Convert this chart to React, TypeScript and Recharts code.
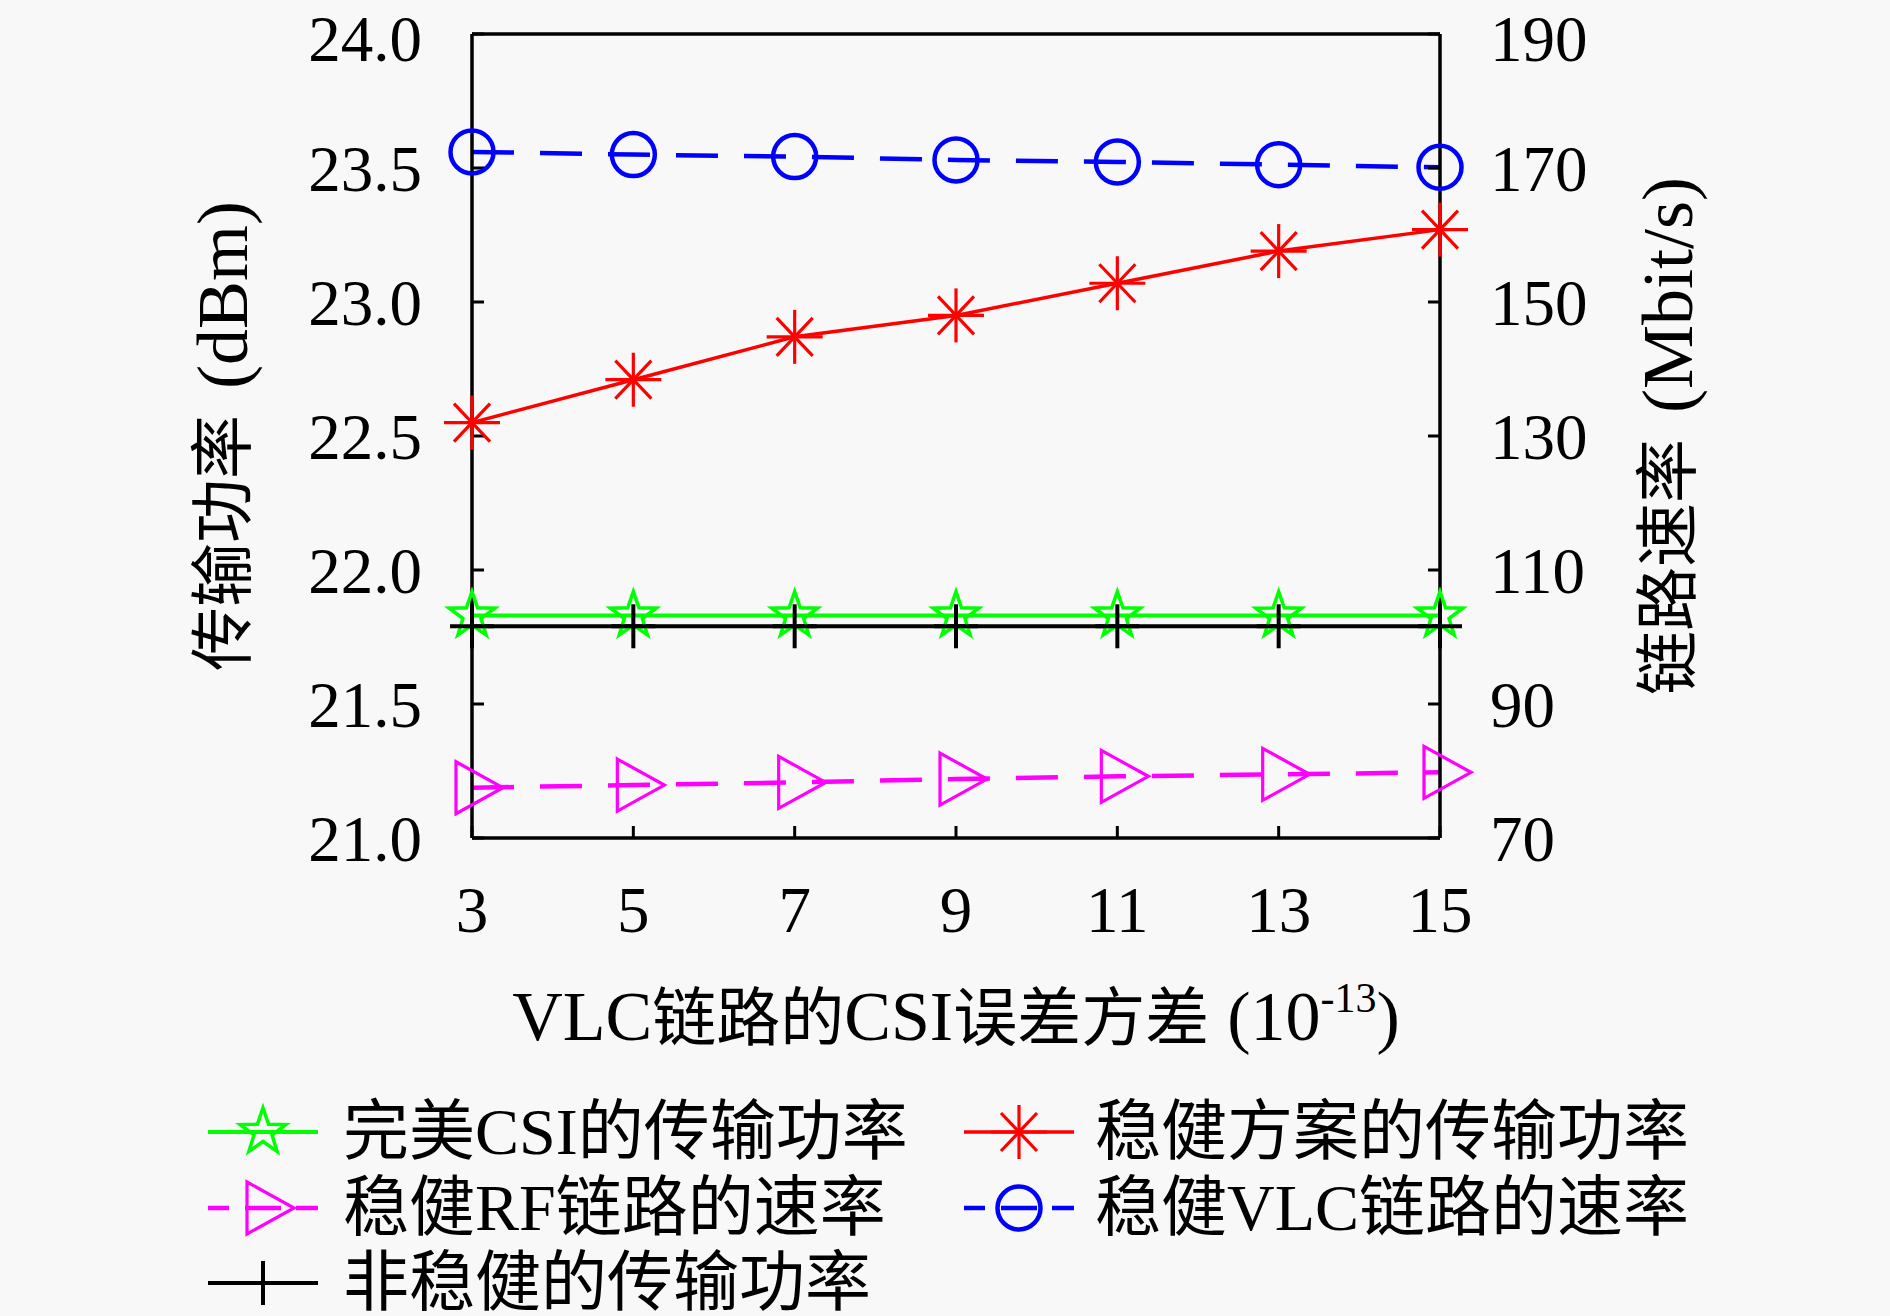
import React from 'react';
import { LineChart, Line, XAxis, YAxis, Label } from 'recharts';

const FONT = '"Liberation Serif", "Noto Sans CJK SC", serif';

// VLC CSI error variance (10^-13)
const X_VALUES = [3, 5, 7, 9, 11, 13, 15];
// transmit power, dBm (left axis)
const PERFECT_CSI_POWER = [21.83, 21.83, 21.83, 21.83, 21.83, 21.83, 21.83];
const ROBUST_POWER = [22.55, 22.71, 22.87, 22.95, 23.07, 23.19, 23.27];
const NON_ROBUST_POWER = [21.79, 21.79, 21.79, 21.79, 21.79, 21.79, 21.79];
// link rate, Mbit/s (right axis)
const ROBUST_RF_RATE = [77.5, 77.9, 78.3, 78.8, 79.2, 79.5, 79.8];
const ROBUST_VLC_RATE = [172.4, 172.0, 171.7, 171.2, 170.9, 170.5, 170.1];

const X_TICKS = [3, 5, 7, 9, 11, 13, 15];
const LEFT_TICKS = [21, 21.5, 22, 22.5, 23, 23.5, 24];
const RIGHT_TICKS = [70, 90, 110, 130, 150, 170, 190];

const SERIES = [
  { key: 'perfect', name: '完美CSI的传输功率', color: '#00ff00', axis: 'left', marker: 'star', width: 4 },
  { key: 'robust', name: '稳健方案的传输功率', color: '#ff0000', axis: 'left', marker: 'asterisk', width: 3.5 },
  { key: 'rf', name: '稳健RF链路的速率', color: '#ff00ff', axis: 'right', marker: 'triangle', width: 4.5, dash: '42 26' },
  { key: 'vlc', name: '稳健VLC链路的速率', color: '#0000ff', axis: 'right', marker: 'circle', width: 4.5, dash: '42 26' },
  { key: 'nonRobust', name: '非稳健的传输功率', color: '#000000', axis: 'left', marker: 'plus', width: 4 },
];

const rows = X_VALUES.map((x, i) => ({
  x,
  perfect: PERFECT_CSI_POWER[i],
  robust: ROBUST_POWER[i],
  rf: ROBUST_RF_RATE[i],
  vlc: ROBUST_VLC_RATE[i],
  nonRobust: NON_ROBUST_POWER[i],
}));

function Marker({ kind, cx, cy, color }: { kind: string; cx: number; cy: number; color: string }) {
  if (kind === 'star') {
    const pts: string[] = [];
    for (let i = 0; i < 10; i++) {
      const r = i % 2 === 0 ? 24 : 9.5;
      const a = -Math.PI / 2 + (i * Math.PI) / 5;
      pts.push(`${cx + r * Math.cos(a)},${cy + r * Math.sin(a)}`);
    }
    return <polygon points={pts.join(' ')} fill="none" stroke={color} strokeWidth={3.5} strokeLinejoin="miter" />;
  }
  if (kind === 'asterisk') {
    return (
      <g stroke={color} strokeWidth={3.2}>
        <line x1={cx} y1={cy - 27} x2={cx} y2={cy + 27} />
        <line x1={cx - 28} y1={cy} x2={cx + 28} y2={cy} />
        <line x1={cx - 18} y1={cy - 19} x2={cx + 18} y2={cy + 19} />
        <line x1={cx - 18} y1={cy + 19} x2={cx + 18} y2={cy - 19} />
      </g>
    );
  }
  if (kind === 'triangle') {
    return (
      <polygon
        points={`${cx - 16},${cy - 26} ${cx + 31},${cy} ${cx - 16},${cy + 26}`}
        fill="none"
        stroke={color}
        strokeWidth={3.2}
      />
    );
  }
  if (kind === 'circle') {
    return <circle cx={cx} cy={cy} r={21.5} fill="none" stroke={color} strokeWidth={4.5} />;
  }
  return (
    <g stroke={color} strokeWidth={4}>
      <line x1={cx} y1={cy - 22} x2={cx} y2={cy + 22} />
      <line x1={cx - 22} y1={cy} x2={cx + 22} y2={cy} />
    </g>
  );
}

const makeDot = (kind: string, color: string) => (props: any) => {
  const { cx, cy, index } = props;
  if (cx == null || cy == null) return <g key={`d-${index}`} />;
  return (
    <g key={`d-${index}`}>
      <Marker kind={kind} cx={cx} cy={cy} color={color} />
    </g>
  );
};

const XTitle = (props: any) => {
  const vb = props.viewBox || { x: 472, y: 838, width: 968, height: 478 };
  return (
    <text x={vb.x + vb.width / 2} y={vb.y + 202} textAnchor="middle" fontSize={64} fontFamily={FONT} fill="#000">
      <tspan fontSize={70}>VLC</tspan>
      <tspan>链路的</tspan>
      <tspan fontSize={70}>CSI</tspan>
      <tspan>误差方差</tspan>
      <tspan fontSize={70} dx={18}>(10</tspan>
      <tspan fontSize={42} dy={-28}>-13</tspan>
      <tspan fontSize={70} dy={28}>)</tspan>
    </text>
  );
};

const LeftTitle = (props: any) => {
  const vb = props.viewBox || { x: 0, y: 34, width: 472, height: 804 };
  const cx = vb.x + 223;
  const cy = vb.y + vb.height / 2;
  return (
    <text x={cx} y={cy} transform={`rotate(-90, ${cx}, ${cy})`} textAnchor="middle" dominantBaseline="central"
      fontSize={64} fontFamily={FONT} fill="#000">
      <tspan>传输功率</tspan>
      <tspan fontSize={72} dx={26}>(dBm)</tspan>
    </text>
  );
};

const RightTitle = (props: any) => {
  const vb = props.viewBox || { x: 1440, y: 34, width: 450, height: 804 };
  const cx = vb.x + 228;
  const cy = vb.y + vb.height / 2;
  return (
    <text x={cx} y={cy} transform={`rotate(-90, ${cx}, ${cy})`} textAnchor="middle" dominantBaseline="central"
      fontSize={64} fontFamily={FONT} fill="#000">
      <tspan>链路速率</tspan>
      <tspan fontSize={72} dx={26}>(Mbit/s)</tspan>
    </text>
  );
};

// legend grid: 2 columns, row-major like the MATLAB legend
const LEGEND_ROWS = [1132, 1208, 1283];
const LEGEND_COLS = [{ line: 208, text: 343 }, { line: 964, text: 1095 }];

function LegendSwatch({ s }: { s: (typeof SERIES)[number] }) {
  return (
    <svg width={110} height={80} style={{ position: 'absolute', left: 0, top: 0, overflow: 'visible' }}>
      <line x1={0} y1={40} x2={110} y2={40} stroke={s.color} strokeWidth={s.width}
        strokeDasharray={s.dash ? '21 16 36 15 22' : undefined} />
      <Marker kind={s.marker} cx={55} cy={40} color={s.color} />
    </svg>
  );
}

export default function App() {
  const axisLine = { stroke: '#000', strokeWidth: 3.5 };
  const tickLine = { stroke: '#000', strokeWidth: 3 };
  const tickText = { fill: '#000', fontSize: 65, fontFamily: FONT };
  return (
    <div style={{ position: 'absolute', left: 0, top: 0, width: 1890, height: 1316, background: '#f8f8f8', fontFamily: FONT }}>
      <LineChart width={1890} height={1316} data={rows} margin={{ top: 0, right: 0, bottom: 0, left: 0 }}>
        <XAxis xAxisId="top" orientation="top" type="number" dataKey="x" domain={[3, 15]} ticks={X_TICKS}
          height={34} tick={false} tickSize={-12} axisLine={axisLine} tickLine={tickLine} allowDataOverflow />
        <XAxis xAxisId="bottom" orientation="bottom" type="number" dataKey="x" domain={[3, 15]} ticks={X_TICKS}
          height={478} tickSize={-12} tickMargin={60} tick={tickText} axisLine={axisLine} tickLine={tickLine}>
          <Label content={XTitle} />
        </XAxis>
        <YAxis yAxisId="left" orientation="left" type="number" domain={[21, 24]} ticks={LEFT_TICKS} width={472}
          tickSize={-12} tickMargin={62} tick={tickText} tickFormatter={(v: number) => v.toFixed(1)}
          axisLine={axisLine} tickLine={tickLine}>
          <Label content={LeftTitle} />
        </YAxis>
        <YAxis yAxisId="right" orientation="right" type="number" domain={[70, 190]} ticks={RIGHT_TICKS} width={450}
          tickSize={-12} tickMargin={62} tick={tickText} axisLine={axisLine} tickLine={tickLine}>
          <Label content={RightTitle} />
        </YAxis>
        {SERIES.map((s) => (
          <Line
            key={s.key}
            xAxisId="bottom"
            yAxisId={s.axis}
            dataKey={s.key}
            name={s.name}
            type="linear"
            stroke={s.color}
            strokeWidth={s.width}
            strokeDasharray={s.dash}
            dot={makeDot(s.marker, s.color)}
            activeDot={false}
            isAnimationActive={false}
          />
        ))}
      </LineChart>
      {SERIES.map((s, i) => {
        const row = LEGEND_ROWS[Math.floor(i / 2)];
        const col = LEGEND_COLS[i % 2];
        return (
          <React.Fragment key={s.key}>
            <div style={{ position: 'absolute', left: col.line, top: row - 40, width: 110, height: 80 }}>
              <LegendSwatch s={s} />
            </div>
            <div style={{ position: 'absolute', left: col.text, top: row - 40, height: 80, lineHeight: '80px',
              fontSize: 66, color: '#000', whiteSpace: 'nowrap' }}>
              {s.name}
            </div>
          </React.Fragment>
        );
      })}
    </div>
  );
}
